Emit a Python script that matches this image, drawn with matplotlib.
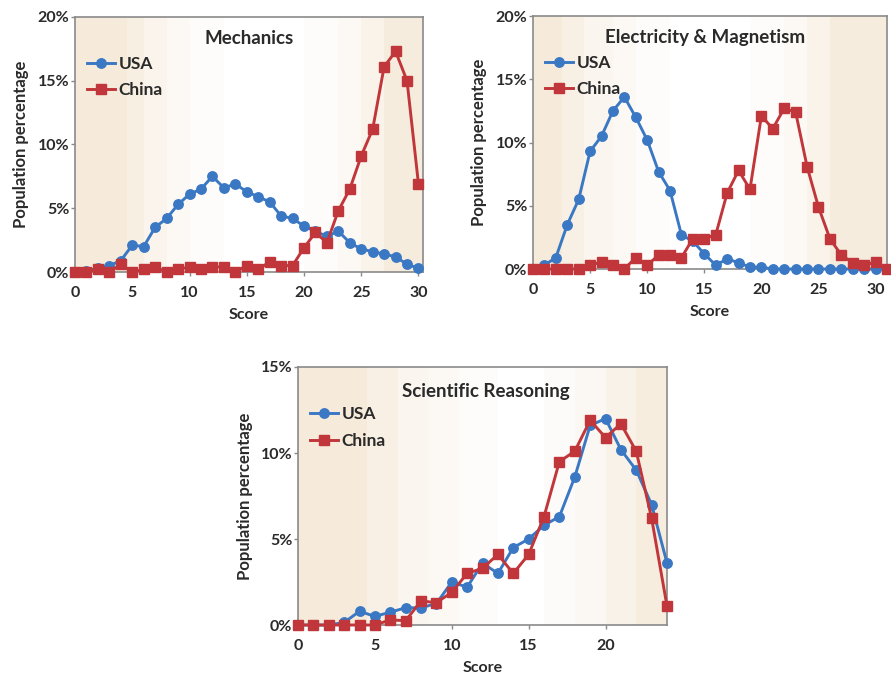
import matplotlib
matplotlib.use("Agg")
import matplotlib.pyplot as plt
import numpy as np
from matplotlib.ticker import FuncFormatter

# ---------------- data ----------------
mech_scores = list(range(0, 31))
mech_usa = [0.0, 0.1, 0.3, 0.5, 0.9, 2.1, 2.0, 3.5, 4.2, 5.3, 6.1, 6.5, 7.5, 6.6, 6.9, 6.3,
            5.9, 5.5, 4.4, 4.2, 3.6, 3.2, 2.8, 3.2, 2.3, 1.8, 1.6, 1.4, 1.2, 0.6, 0.3]
mech_china = [0.0, 0.0, 0.2, 0.0, 0.6, 0.0, 0.2, 0.4, 0.0, 0.2, 0.4, 0.2, 0.4, 0.4, 0.0, 0.5,
              0.2, 0.8, 0.5, 0.5, 1.9, 3.1, 2.3, 4.8, 6.5, 9.1, 11.2, 16.1, 17.3, 15.0, 6.9]

em_scores = list(range(0, 32))
em_usa = [0.0, 0.3, 0.9, 3.5, 5.5, 9.3, 10.5, 12.5, 13.6, 12.0, 10.2, 7.7, 6.2, 2.7, 2.2, 1.2,
          0.3, 0.8, 0.5, 0.15, 0.15, 0.0, 0.0, 0.0, 0.0, 0.0, 0.0, 0.0, 0.0, 0.0, 0.0, 0.0]
em_china = [0.0, 0.0, 0.0, 0.0, 0.0, 0.3, 0.55, 0.3, 0.0, 0.9, 0.3, 1.1, 1.1, 0.9, 2.4, 2.4,
            2.7, 6.0, 7.8, 6.3, 12.1, 11.1, 12.7, 12.4, 8.1, 4.9, 2.4, 1.1, 0.5, 0.3, 0.55, 0.0]

sr_scores = list(range(0, 25))
sr_usa = [0.0, 0.0, 0.0, 0.15, 0.8, 0.5, 0.75, 1.0, 1.0, 1.25, 2.5, 2.2, 3.6, 3.0, 4.5, 5.0,
          5.8, 6.3, 8.6, 11.6, 12.0, 10.2, 9.0, 7.0, 3.6]
sr_china = [0.0, 0.0, 0.0, 0.0, 0.0, 0.0, 0.3, 0.25, 1.4, 1.3, 1.9, 3.0, 3.3, 4.1, 3.0, 4.1,
            6.3, 9.5, 10.1, 11.9, 10.9, 11.7, 10.1, 6.2, 1.1]

titles = ["Mechanics", "Electricity & Magnetism", "Scientific Reasoning"]
series_names = ["USA", "China"]
x_label = "Score"
y_label = "Population percentage"

# ---------------- style ----------------
FONT = ["Lato", "DejaVu Sans"]
plt.rcParams["font.family"] = FONT
USA_C = "#3b78c4"
CHN_C = "#c0363a"
BEIGE = "#f6eada"
SPINE = "#8a8a8a"
TXT = "#2a2a2a"

fig = plt.figure(figsize=(8.91, 6.79), dpi=100)

panels = [
    dict(rect=[0.0842, 0.5994, 0.3906, 0.3756], x=mech_scores, usa=mech_usa, chn=mech_china,
         xlim=(0, 30.4), ylim=(0, 20), yticks=[0, 5, 10, 15, 20], xticks=[0, 5, 10, 15, 20, 25, 30],
         title=titles[0], tpos=(0.5, 0.915),
         bands=[(0, 4.5, 1.0), (4.5, 6, 0.75), (6, 8, 0.5), (8, 10, 0.3), (10, 13, 0.12),
                (20, 23, 0.12), (23, 25, 0.3), (25, 27, 0.55), (27, 31, 0.9)]),
    dict(rect=[0.5982, 0.6038, 0.3973, 0.3726], x=em_scores, usa=em_usa, chn=em_china,
         xlim=(0, 31), ylim=(0, 20), yticks=[0, 5, 10, 15, 20], xticks=[0, 5, 10, 15, 20, 25, 30],
         title=titles[1], tpos=(0.485, 0.915),
         bands=[(0, 2.5, 1.0), (2.5, 4.5, 0.7), (4.5, 7, 0.45), (7, 9, 0.25), (9, 12, 0.1),
                (19, 22, 0.12), (22, 24, 0.3), (24, 26, 0.55), (26, 32, 0.9)]),
    dict(rect=[0.3345, 0.0795, 0.4141, 0.3800], x=sr_scores, usa=sr_usa, chn=sr_china,
         xlim=(0, 24), ylim=(0, 15), yticks=[0, 5, 10, 15], xticks=[0, 5, 10, 15, 20],
         title=titles[2], tpos=(0.51, 0.905),
         bands=[(0, 4.5, 1.0), (4.5, 6.5, 0.7), (6.5, 8.5, 0.45), (8.5, 10.5, 0.25), (10.5, 13, 0.1),
                (16, 18, 0.15), (18, 20, 0.35), (20, 22, 0.6), (22, 25, 0.85)]),
]

pct = FuncFormatter(lambda v, p: f"{v:g}%")

for P in panels:
    ax = fig.add_axes(P["rect"])
    ax.set_facecolor("white")
    for a, b, al in P["bands"]:
        ax.axvspan(a, b, color=BEIGE, alpha=al, lw=0, zorder=0)
    ax.plot(P["x"], P["usa"], color=USA_C, marker="o", ms=6.8, lw=2.1,
            label=series_names[0], clip_on=False, zorder=3)
    ax.plot(P["x"], P["chn"], color=CHN_C, marker="s", ms=6.8, lw=2.1,
            label=series_names[1], clip_on=False, zorder=4)
    ax.set_xlim(*P["xlim"])
    ax.set_ylim(*P["ylim"])
    ax.set_xticks(P["xticks"])
    ax.set_yticks(P["yticks"])
    ax.yaxis.set_major_formatter(pct)
    for s in ax.spines.values():
        s.set_color(SPINE)
        s.set_linewidth(1.2)
    ax.tick_params(axis="both", length=3, width=1, color=SPINE, labelcolor=TXT,
                   labelsize=11.5, pad=7)
    ax.tick_params(axis="y", pad=1)
    for lab in ax.get_xticklabels() + ax.get_yticklabels():
        lab.set_fontweight("bold")
    ax.set_xlabel(x_label, fontsize=11.5, fontweight="bold", color=TXT, labelpad=6)
    ax.set_ylabel(y_label, fontsize=12, fontweight="bold", color=TXT, labelpad=6)
    ax.text(P["tpos"][0], P["tpos"][1], P["title"], transform=ax.transAxes,
            ha="center", va="center", fontsize=13.5, fontweight="bold", color=TXT)
    leg = ax.legend(loc="upper left", bbox_to_anchor=(0.0, 0.895), frameon=False,
                    handlelength=1.6, handletextpad=0.2, labelspacing=0.6,
                    borderaxespad=0.3, prop=dict(size=12.5, weight="bold"))
    for t in leg.get_texts():
        t.set_color(TXT)

fig.savefig("out.png", dpi=100, facecolor="white")
